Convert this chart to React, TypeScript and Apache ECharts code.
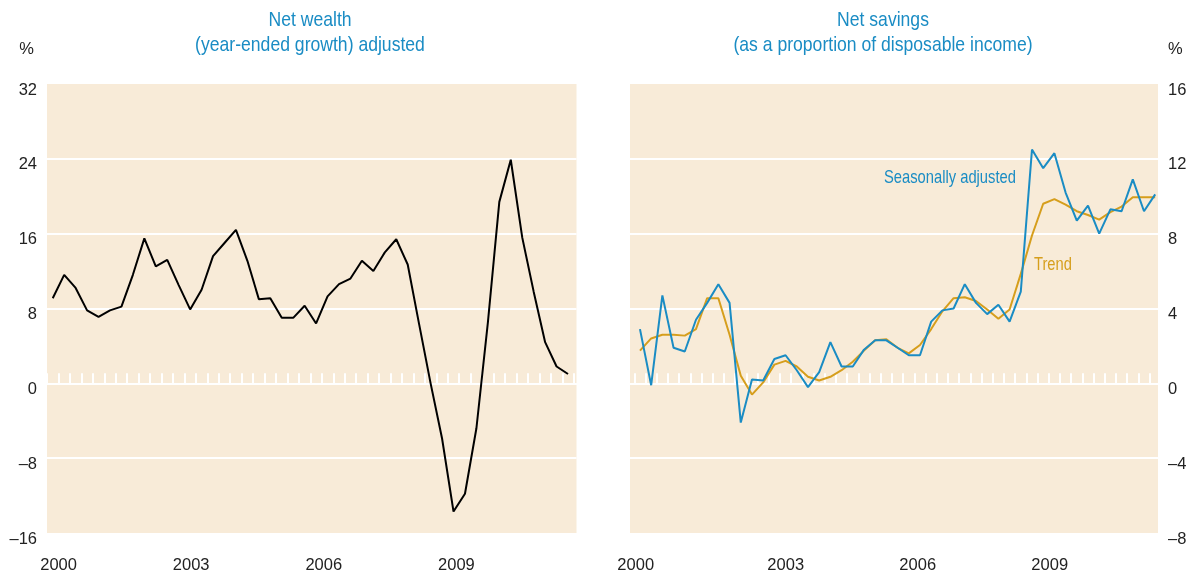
import React, { useEffect, useRef } from "react";
import * as echarts from "echarts";

// Net wealth, year-ended growth (%), quarterly from 2000
const wealthGrowth = [
  9.1, 11.6, 10.2, 7.8, 7.1, 7.8, 8.2, 11.6, 15.5, 12.5, 13.2, 10.5, 7.9, 10.0,
  13.6, 15.0, 16.4, 13.1, 9.0, 9.1, 7.0, 7.0, 8.3, 6.4, 9.3, 10.6, 11.2, 13.1,
  12.0, 14.0, 15.4, 12.7, 6.3, 0.0, -5.9, -13.7, -11.8, -4.8, 6.5, 19.4, 23.9,
  15.6, 9.8, 4.4, 1.8, 1.0,
];

// Net savings, % of disposable income
const savingsSA = [
  2.9, -0.1, 4.7, 1.9, 1.7, 3.4, 4.3, 5.3, 4.3, -2.1, 0.2, 0.15, 1.3, 1.5, 0.7,
  -0.2, 0.6, 2.2, 0.9, 0.9, 1.8, 2.3, 2.3, 1.9, 1.5, 1.5, 3.3, 3.9, 4.0, 5.3,
  4.3, 3.7, 4.2, 3.3, 4.9, 12.5, 11.5, 12.3, 10.2, 8.7, 9.5, 8.0, 9.3, 9.2,
  10.9, 9.2, 10.1,
];
const savingsTrend = [
  1.75, 2.4, 2.6, 2.6, 2.55, 2.9, 4.55, 4.55, 2.6, 0.4, -0.6, 0.05, 1.0, 1.2,
  0.9, 0.35, 0.15, 0.35, 0.7, 1.15, 1.75, 2.3, 2.35, 1.9, 1.6, 2.05, 2.9, 3.85,
  4.55, 4.6, 4.4, 3.95, 3.45, 3.95, 5.85, 7.9, 9.6, 9.85, 9.55, 9.2, 9.0, 8.75,
  9.15, 9.45, 9.95, 9.95, 9.95,
];

const yearLabels = [2000, 2003, 2006, 2009];
const leftYTicks = { min: -16, max: 32, interval: 8 };
const rightYTicks = { min: -8, max: 16, interval: 4 };
const leftTitle = ["Net wealth", "(year-ended growth) adjusted"];
const rightTitle = ["Net savings", "(as a proportion of disposable income)"];

const FONT = "'Liberation Sans', Arial, sans-serif";
const BLUE = "#1a8cc4";
const ORANGE = "#d69e1c";
const BG = "#f8ebd8";
const TXT = "#222222";
const NARROW = 0.88;

export default function App() {
  const ref = useRef<HTMLDivElement>(null);
  useEffect(() => {
    if (!ref.current) return;
    const chart = echarts.init(ref.current, undefined, { renderer: "svg" });
    const tickVals = (n: number) => Array.from({ length: n + 1 }, (_, k) => k - 0.5);

    const zeroAxis = (gridIndex: number, min: number, max: number, n: number) => ({
      type: "value",
      gridIndex,
      min,
      max,
      position: "bottom",
      axisLine: { show: true, onZero: true, lineStyle: { color: "#ffffff", width: 2 } },
      axisTick: {
        show: true,
        inside: true,
        length: 10,
        customValues: tickVals(n),
        lineStyle: { color: "#ffffff", width: 2 },
      },
      axisLabel: { show: false },
      splitLine: { show: false },
    });

    const labelAxis = (gridIndex: number, min: number, max: number, right: boolean) => ({
      type: "value",
      gridIndex,
      min,
      max,
      position: "bottom",
      axisLine: { show: false, onZero: false },
      axisTick: { show: false },
      splitLine: { show: false },
      axisLabel: {
        customValues: yearLabels,
        margin: 22,
        fontSize: 16.5,
        fontFamily: FONT,
        color: TXT,
        formatter: (v: number) => (right && v === 2000 ? "{a|2000}" : String(v)),
        rich: { a: { padding: [0, 36, 0, 0], fontSize: 16.5, fontFamily: FONT, color: TXT } },
      },
    });

    const yAxis = (gridIndex: number, t: { min: number; max: number; interval: number }, pos: string) => ({
      type: "value",
      gridIndex,
      position: pos,
      min: t.min,
      max: t.max,
      interval: t.interval,
      axisLine: { show: false },
      axisTick: { show: false },
      axisLabel: {
        margin: 10,
        fontSize: 16.5,
        fontFamily: FONT,
        color: TXT,
        formatter: (v: number) => "{a|" + (v < 0 ? "\u2013" + Math.abs(v) : String(v)) + "}",
        rich: { a: { padding: [9, 0, 0, 0], fontSize: 16.5, fontFamily: FONT, color: TXT } },
      },
      splitLine: { show: true, showMinLine: false, showMaxLine: false, lineStyle: { color: "#ffffff", width: 2 } },
    });

    const text = (s: string, x: number, y: number, align: string, color: string, size: number, sx: number) => ({
      type: "text",
      x,
      y,
      scaleX: sx,
      style: {
        text: s,
        fill: color,
        fontSize: size,
        fontFamily: FONT,
        align,
        textAlign: align,
        verticalAlign: "middle",
        textVerticalAlign: "middle",
      },
    });

    chart.setOption({
      animation: false,
      grid: [
        { left: 47, right: 618.5, top: 84, bottom: 42, show: true, backgroundColor: BG, borderWidth: 0 },
        { left: 630, right: 37, top: 84, bottom: 42, show: true, backgroundColor: BG, borderWidth: 0 },
      ],
      xAxis: [
        zeroAxis(0, -0.5, 45.74, 46),
        labelAxis(0, 1999.738, 2011.717, false),
        zeroAxis(1, -0.89, 46.25, 46),
        labelAxis(1, 1999.461, 2011.461, true),
      ],
      yAxis: [yAxis(0, leftYTicks, "left"), yAxis(1, rightYTicks, "right")],
      series: [
        {
          type: "line",
          xAxisIndex: 0,
          yAxisIndex: 0,
          data: wealthGrowth.map((v, i) => [i, v]),
          showSymbol: false,
          lineStyle: { color: "#000000", width: 2 },
        },
        {
          type: "line",
          name: "Trend",
          xAxisIndex: 2,
          yAxisIndex: 1,
          data: savingsTrend.map((v, i) => [i, v]),
          showSymbol: false,
          lineStyle: { color: ORANGE, width: 2 },
        },
        {
          type: "line",
          name: "Seasonally adjusted",
          xAxisIndex: 2,
          yAxisIndex: 1,
          data: savingsSA.map((v, i) => [i, v]),
          showSymbol: false,
          lineStyle: { color: BLUE, width: 2 },
        },
      ],
      graphic: [
        text(leftTitle[0], 310, 19, "center", BLUE, 20, NARROW),
        text(leftTitle[1], 310, 44.5, "center", BLUE, 20, NARROW),
        text(rightTitle[0], 883, 19, "center", BLUE, 20, NARROW),
        text(rightTitle[1], 883, 44.5, "center", BLUE, 20, NARROW),
        text("%", 34, 48, "right", TXT, 16.5, 1),
        text("%", 1168, 48, "left", TXT, 16.5, 1),
        text("Seasonally adjusted", 884, 176, "left", BLUE, 18, 0.82),
        text("Trend", 1034, 263.5, "left", ORANGE, 18, 0.82),
      ],
    });
    return () => chart.dispose();
  }, []);
  return <div ref={ref} style={{ position: "fixed", left: 0, top: 0, width: 1195, height: 575 }} />;
}
